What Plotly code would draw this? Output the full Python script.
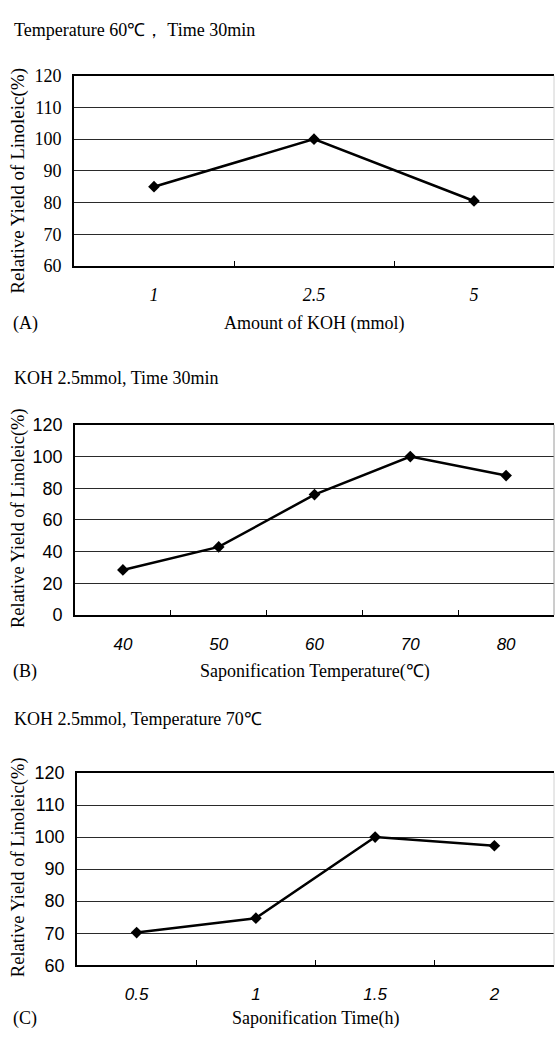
import plotly.graph_objects as go

W, H = 555, 1038

# ---- data ----
koh_labels = ["1", "2.5", "5"]
yield_koh = [85, 100, 80.5]

temp_labels = ["40", "50", "60", "70", "80"]
yield_temp = [28.5, 43, 76, 100, 88]

time_labels = ["0.5", "1", "1.5", "2"]
yield_time = [70.2, 74.7, 100, 97.3]

headers = ["Temperature 60℃， Time 30min", "KOH 2.5mmol, Time 30min", "KOH 2.5mmol, Temperature 70℃"]
xtitles = ["Amount of KOH (mmol)", "Saponification Temperature(℃)", "Saponification Time(h)"]
panel_tags = ["(A)", "(B)", "(C)"]
ytitle = "Relative Yield of Linoleic(%)"

SERIF = "Liberation Serif, Times New Roman, serif"
NARROW = "Liberation Sans Narrow, Arial Narrow, Liberation Sans, sans-serif"
SANS = "Liberation Sans, Arial, sans-serif"

# pixel geometry: (left, right, top, bottom)
boxes = [(74, 554, 67, 261), (75, 554, 423, 617), (77, 554, 778, 974)]
yranges = [(60, 120, 10), (0, 120, 20), (60, 120, 10)]
header_y = [20, 375, 723]
xtitle_y = [320, 674, 1028]
ytitle_cy = [174, 518, 874]
ytitle_size = [19, 18.5, 18.5]

def px(x):
    return x / W

def py(y):
    return 1 - y / H

fig = go.Figure()
series = [(koh_labels, yield_koh), (temp_labels, yield_temp), (time_labels, yield_time)]
for i, (cats, vals) in enumerate(series):
    sfx = "" if i == 0 else str(i + 1)
    fig.add_trace(go.Scatter(
        x=cats, y=vals, mode="lines+markers",
        line=dict(color="black", width=2.5),
        marker=dict(symbol="diamond", size=9, color="black"),
        xaxis="x" + sfx, yaxis="y" + sfx, showlegend=False,
    ))

layout = dict(
    width=W, height=H, margin=dict(l=0, r=0, t=0, b=0),
    paper_bgcolor="white", plot_bgcolor="white", showlegend=False,
)
annotations = []
shapes = []
for i, (cats, vals) in enumerate(series):
    sfx = "" if i == 0 else str(i + 1)
    l, r, t, b = boxes[i]
    y0, y1, dt = yranges[i]
    if i == 0:
        xtf = dict(family=SERIF, size=18, color="black", style="italic")
        ytf = dict(family=SERIF, size=18, color="black")
    else:
        xtf = dict(family=SANS, size=17, color="black", style="italic")
        ytf = dict(family=NARROW, size=18, color="black")
    layout["xaxis" + sfx] = dict(
        domain=[px(l), px(r)], anchor="y" + sfx, type="category",
        categoryorder="array", categoryarray=cats,
        range=[-0.5, len(cats) - 0.5], tickson="boundaries",
        ticks="inside", ticklen=5, tickcolor="black", tickwidth=1,
        showline=True, linecolor="black", linewidth=1.7, mirror=True,
        showgrid=False, zeroline=False, tickfont=xtf,
        ticklabelstandoff=12 if i == 0 else 13,
        fixedrange=True,
    )
    layout["yaxis" + sfx] = dict(
        domain=[py(b), py(t)], anchor="x" + sfx,
        range=[y0, y1], dtick=dt, tick0=y0,
        showline=True, linecolor="black", linewidth=1.7, mirror=False,
        showgrid=True, gridcolor="#2a2a2a", gridwidth=1,
        zeroline=False, ticks="", tickfont=ytf, ticklabelstandoff=7,
        fixedrange=True,
    )
    shapes.append(dict(type="line", xref="x" + sfx + " domain", yref="y" + sfx + " domain",
                       x0=1, x1=1, y0=0, y1=1,
                       line=dict(color="#9a9a9a" if i == 1 else "#d0d0d0", width=1)))
    annotations.append(dict(text=headers[i], xref="paper", yref="paper",
                            x=px(12), y=py(header_y[i]), xanchor="left", yanchor="middle",
                            showarrow=False, font=dict(family=SERIF, size=18, color="black")))
    annotations.append(dict(text=xtitles[i], xref="paper", yref="paper",
                            x=px((l + r) / 2), y=py(xtitle_y[i]), xanchor="center", yanchor="middle",
                            showarrow=False, font=dict(family=SERIF, size=18, color="black")))
    annotations.append(dict(text=panel_tags[i], xref="paper", yref="paper",
                            x=px(11), y=py(xtitle_y[i]), xanchor="left", yanchor="middle",
                            showarrow=False, font=dict(family=SERIF, size=18, color="black")))
    annotations.append(dict(text=ytitle, xref="paper", yref="paper", textangle=-90,
                            x=px(18), y=py(ytitle_cy[i]), xanchor="center", yanchor="middle",
                            showarrow=False, font=dict(family=SERIF, size=ytitle_size[i], color="black")))

layout["annotations"] = annotations
layout["shapes"] = shapes
fig.update_layout(**layout)
fig.write_html("out.html")
